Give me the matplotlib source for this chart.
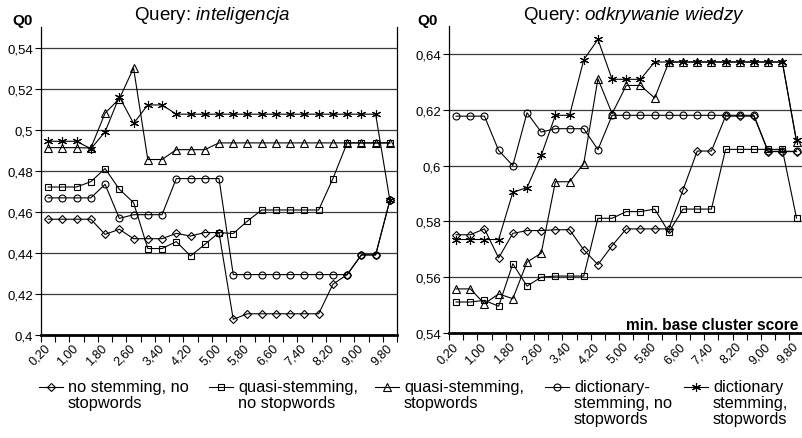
# Q0 vs. min. base cluster score for two queries, five stemming/stopword variants.
import numpy as np
import matplotlib
matplotlib.use("Agg")
import matplotlib.pyplot as plt
from matplotlib.lines import Line2D

plt.rcParams["font.family"] = ["Liberation Sans", "DejaVu Sans"]
plt.rcParams["mathtext.fontset"] = "custom"
plt.rcParams["mathtext.rm"] = "Liberation Sans"
plt.rcParams["mathtext.it"] = "Liberation Sans:italic"

# categories on the x axis
score_labels = ["0,20", "0,60", "1,00", "1,40", "1,80", "2,20", "2,60", "3,00", "3,40",
                "3,80", "4,20", "4,60", "5,00", "5,40", "5,80", "6,20", "6,60", "7,00",
                "7,40", "7,80", "8,20", "8,60", "9,00", "9,40", "9,80"]

series_names = ["no stemming, no\nstopwords",
                "quasi-stemming,\nno stopwords",
                "quasi-stemming,\nstopwords",
                "dictionary-\nstemming, no\nstopwords",
                "dictionary\nstemming,\nstopwords"]

# query: inteligencja
intel_nostem_nostop = [0.4563, 0.4563, 0.4563, 0.4563, 0.4489, 0.4514, 0.4468, 0.4468, 0.4468,
                       0.4494, 0.4481, 0.4498, 0.4498, 0.4075, 0.4102, 0.4102, 0.4102, 0.4102,
                       0.4102, 0.4102, 0.4246, 0.4293, 0.4389, 0.4389, 0.4655]
intel_quasi_nostop = [0.4720, 0.4720, 0.4720, 0.4746, 0.4810, 0.4709, 0.4644, 0.4420, 0.4420,
                      0.4454, 0.4384, 0.4440, 0.4498, 0.4493, 0.4554, 0.4608, 0.4608, 0.4608,
                      0.4608, 0.4608, 0.4761, 0.4935, 0.4935, 0.4935, 0.4935]
intel_quasi_stop = [0.4912, 0.4912, 0.4912, 0.4910, 0.5080, 0.5150, 0.5300, 0.4854, 0.4854,
                    0.4902, 0.4902, 0.4902, 0.4935, 0.4935, 0.4935, 0.4935, 0.4935, 0.4935,
                    0.4935, 0.4935, 0.4935, 0.4935, 0.4935, 0.4935, 0.4935]
intel_dict_nostop = [0.4667, 0.4667, 0.4667, 0.4667, 0.4733, 0.4567, 0.4585, 0.4585, 0.4585,
                     0.4761, 0.4761, 0.4761, 0.4761, 0.4293, 0.4293, 0.4293, 0.4293, 0.4293,
                     0.4293, 0.4293, 0.4293, 0.4293, 0.4389, 0.4389, 0.4655]
intel_dict_stop = [0.4943, 0.4943, 0.4943, 0.4906, 0.4989, 0.5160, 0.5030, 0.5120, 0.5120,
                   0.5075, 0.5075, 0.5075, 0.5075, 0.5075, 0.5075, 0.5075, 0.5075, 0.5075,
                   0.5075, 0.5075, 0.5075, 0.5075, 0.5075, 0.5075, 0.4655]

# query: odkrywanie wiedzy
odkr_nostem_nostop = [0.5752, 0.5752, 0.5773, 0.5669, 0.5757, 0.5767, 0.5767, 0.5770, 0.5770,
                      0.5698, 0.5645, 0.5713, 0.5773, 0.5773, 0.5773, 0.5773, 0.5913, 0.6052,
                      0.6052, 0.6177, 0.6177, 0.6177, 0.6050, 0.6050, 0.6050]
odkr_quasi_nostop = [0.5511, 0.5511, 0.5517, 0.5496, 0.5648, 0.5568, 0.5600, 0.5604, 0.5604,
                     0.5604, 0.5811, 0.5811, 0.5835, 0.5835, 0.5844, 0.5761, 0.5844, 0.5844,
                     0.5844, 0.6058, 0.6058, 0.6058, 0.6058, 0.6058, 0.5812]
odkr_quasi_stop = [0.5558, 0.5558, 0.5505, 0.5540, 0.5523, 0.5654, 0.5686, 0.5942, 0.5942,
                   0.6007, 0.6311, 0.6186, 0.6287, 0.6287, 0.6242, 0.6371, 0.6371, 0.6371,
                   0.6371, 0.6371, 0.6371, 0.6371, 0.6371, 0.6371, 0.6084]
odkr_dict_nostop = [0.6177, 0.6177, 0.6177, 0.6054, 0.6000, 0.6189, 0.6120, 0.6132, 0.6132,
                    0.6132, 0.6057, 0.6180, 0.6180, 0.6180, 0.6180, 0.6180, 0.6180, 0.6180,
                    0.6180, 0.6180, 0.6180, 0.6180, 0.6051, 0.6051, 0.6051]
odkr_dict_stop = [0.5735, 0.5735, 0.5735, 0.5735, 0.5904, 0.5921, 0.6036, 0.6180, 0.6180,
                  0.6379, 0.6452, 0.6309, 0.6309, 0.6309, 0.6371, 0.6371, 0.6371, 0.6371,
                  0.6371, 0.6371, 0.6371, 0.6371, 0.6371, 0.6371, 0.6090]

# marker style per series: (marker, size)
styles = [("D", 4.3), ("s", 4.6), ("^", 5.2), ("o", 5.0), ((6, 2, 0), 6.5)]

W, H = 802, 439


def fx(px):
    return px / W


def fy(py):
    return 1 - py / H


def excel_fmt(v):
    return ("%g" % round(v, 2)).replace(".", ",")


def draw_panel(ax, series, ylo, yhi, right_spine):
    x = np.arange(len(score_labels))
    for vals, (mk, ms) in zip(series, styles):
        ax.plot(x, vals, color="black", lw=0.8, marker=mk, ms=ms,
                mfc="none", mec="black", mew=0.8, zorder=3)
    ax.set_xlim(-0.5, len(score_labels) - 0.5)
    ax.set_ylim(ylo, yhi)
    yt = np.arange(ylo, yhi - 0.005, 0.02)
    ax.set_yticks(yt)
    ax.set_yticklabels([excel_fmt(v) for v in yt], fontsize=9.5)
    for v in yt[1:]:
        ax.axhline(v, color="#3a3a3a", lw=0.9, zorder=1)
    ax.set_xticks(x[::2])
    ax.set_xticklabels(score_labels[::2], rotation=45, ha="right", va="center",
                       rotation_mode="anchor", fontsize=9)
    ax.set_xticks(np.arange(-0.5, len(score_labels)), minor=True)
    ax.tick_params(axis="x", which="major", length=0, pad=8)
    ax.tick_params(axis="x", which="minor", length=5, width=0.8, direction="out")
    ax.tick_params(axis="y", length=4, width=0.8, direction="out", pad=1.5)
    ax.spines["top"].set_visible(False)
    ax.spines["right"].set_visible(right_spine)
    ax.spines["right"].set_linewidth(0.9)
    ax.spines["left"].set_linewidth(0.9)
    ax.spines["bottom"].set_linewidth(2.0)


fig = plt.figure(figsize=(W / 100, H / 100), dpi=100)
ax1 = fig.add_axes([fx(41), fy(335.7), fx(397 - 41), (335.7 - 28) / H])
ax2 = fig.add_axes([fx(449), fy(334), fx(802 - 449) + 0.002, (334 - 27) / H])

draw_panel(ax1, [intel_nostem_nostop, intel_quasi_nostop, intel_quasi_stop,
                 intel_dict_nostop, intel_dict_stop], 0.40, 0.55, True)
draw_panel(ax2, [odkr_nostem_nostop, odkr_quasi_nostop, odkr_quasi_stop,
                 odkr_dict_nostop, odkr_dict_stop], 0.54, 0.65, False)

# titles and axis captions
fig.text(fx(212), fy(20), r"Query: $\it{inteligencja}$", ha="center", va="baseline", fontsize=13.5)
fig.text(fx(634), fy(20), r"Query: $\it{odkrywanie}$ $\it{wiedzy}$", ha="center", va="baseline", fontsize=13.5)
fig.text(fx(12), fy(25), "Q0", fontweight="bold", fontsize=11, va="baseline")
fig.text(fx(417), fy(25), "Q0", fontweight="bold", fontsize=11, va="baseline")
fig.text(fx(798), fy(330), "min. base cluster score", fontweight="bold", fontsize=11.2,
         ha="right", va="baseline")

# legend drawn by hand below the panels
text_x = [68, 238, 404, 574, 713]
for tx, name, (mk, ms) in zip(text_x, series_names, styles):
    fig.add_artist(Line2D([fx(tx - 29), fx(tx - 5)], [fy(388), fy(388)], color="black", lw=0.8))
    fig.add_artist(Line2D([fx(tx - 17)], [fy(388)], marker=mk, ms=ms, mfc="none",
                          mec="black", mew=0.8, lw=0))
    fig.text(fx(tx), fy(380), name, fontsize=11.8, ha="left", va="top", linespacing=1.1)

fig.savefig("out.png", dpi=100)
